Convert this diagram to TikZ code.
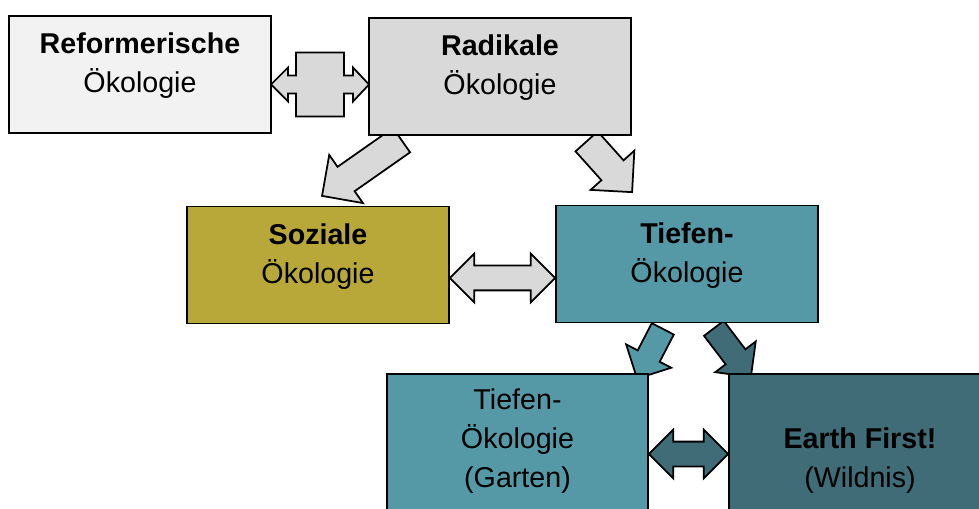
\documentclass[tikz,border=0pt]{standalone}
\usepackage{fontspec}
\setmainfont{Liberation Sans}
\usepackage{xcolor}
\definecolor{paleg}{HTML}{F2F2F2}
\definecolor{midg}{HTML}{D9D9D9}
\definecolor{sozial}{HTML}{B8A83A}
\definecolor{tiefe}{HTML}{5699A6}
\definecolor{wildnis}{HTML}{3F6C76}
\usetikzlibrary{shapes.arrows, positioning, calc, backgrounds}

\newcommand{\pxu}{0.02cm}

% block arrow from one named point to another
\newcommand{\blockarrow}[3]{%
  \path let \p1=($(#3)-(#2)$) in
    node[#1, rotate={atan2(\y1,\x1)}, minimum height={veclen(\x1,\y1)}]
      at ($(#2)!0.5!(#3)$) {};
}

\begin{document}
\begin{tikzpicture}[x=\pxu, y=-\pxu,
  ecobox/.style={draw=black, line width=1pt, minimum width=262*\pxu,
                 minimum height=117*\pxu, align=center, inner sep=0pt,
                 text height=0.86cm, text depth=0.12cm,
                 font=\fontsize{16.3}{22.2}\selectfont},
  bigarrow/.style={single arrow, draw=black, line width=1pt, inner xsep=0pt,
                   inner ysep=14*\pxu, single arrow head extend=14.5*\pxu},
  smallarrow/.style={single arrow, draw=black, line width=1pt, inner xsep=0pt,
                     inner ysep=11.5*\pxu, single arrow head extend=13*\pxu},
  twoway/.style={double arrow, draw=black, line width=1pt, inner xsep=0pt,
                 inner ysep=11.5*\pxu, double arrow head extend=12*\pxu}
]
  \useasboundingbox (0,0) rectangle (979,509);
  \clip (0,0) rectangle (979,509);

  \node[ecobox, fill=paleg] (ref) at (140,74.5) {\textbf{Reformerische}\\Ökologie};
  \node[ecobox, fill=midg] (rad) at (500,76.5) {\textbf{Radikale}\\Ökologie};
  \node[ecobox, fill=sozial] (soz) at (318,265) {\textbf{Soziale}\\Ökologie};
  \node[ecobox, fill=tiefe] (tief) at (687,264) {\textbf{Tiefen-}\\Ökologie};
  \node[ecobox, fill=tiefe, minimum width=261*\pxu, minimum height=140*\pxu,
        text height=1.88cm] (gart) at (517.5,444) {Tiefen-\\Ökologie\\(Garten)};
  \node[ecobox, fill=wildnis, minimum height=140*\pxu,
        text height=1.88cm] (wild) at (860,444) {\textbf{Earth First!}\\(Wildnis)};

  % end points of the arrows
  \coordinate (lr) at ($(ref.east)!0.5!(rad.west)+(0,9)$);
  \coordinate (r1) at ($(rad.south west)+(39.5,0)$);
  \coordinate (s1) at ($(soz.north west)+(142,-14)$);
  \coordinate (r2) at ($(rad.south west)+(213.5,0)$);
  \coordinate (t1) at ($(tief.north west)+(72,-18)$);
  \coordinate (t2) at ($(tief.south west)+(110.5,0)$);
  \coordinate (g1) at ($(gart.north east)+(-9,0)$);
  \coordinate (t3) at ($(tief.south west)+(155,0)$);
  \coordinate (w1) at ($(wild.north west)+(19,-1)$);
  \coordinate (s2) at ($(soz.east)+(0,13)$);
  \coordinate (t4) at ($(tief.west)+(0,14)$);
  \coordinate (g2) at ($(gart.east)+(0,10)$);
  \coordinate (w2) at ($(wild.west)+(0,10)$);

  \begin{scope}[on background layer]
    \draw[fill=midg, line width=1pt] (lr) ++(-49,0) -- ++(17,-17) -- ++(0,8)
      -- ++(8,0) -- ++(0,-23) -- ++(48,0) -- ++(0,23) -- ++(9,0) -- ++(0,-8)
      -- ++(16,17) -- ++(-16,17) -- ++(0,-8) -- ++(-9,0) -- ++(0,23)
      -- ++(-48,0) -- ++(0,-23) -- ++(-8,0) -- ++(0,8) -- cycle;
    \blockarrow{bigarrow, fill=midg}{r1}{s1}
    \blockarrow{bigarrow, fill=midg}{r2}{t1}
    \blockarrow{smallarrow, fill=tiefe}{t2}{g1}
    \blockarrow{smallarrow, fill=wildnis}{t3}{w1}
    \blockarrow{twoway, fill=midg}{s2}{t4}
    \blockarrow{twoway, fill=wildnis}{g2}{w2}
  \end{scope}
\end{tikzpicture}
\end{document}
